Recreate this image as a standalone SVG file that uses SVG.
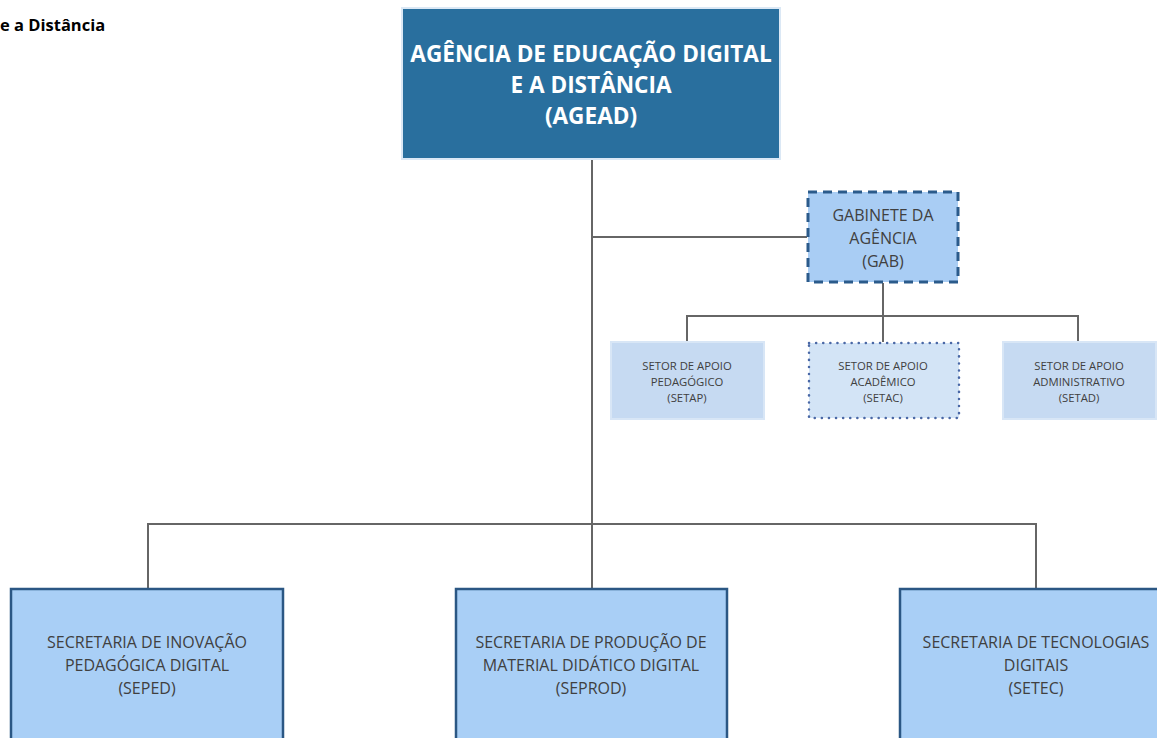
<svg xmlns="http://www.w3.org/2000/svg" width="1157" height="738" viewBox="0 0 1157 738">
<style>
text{font-family:"Open Sans","Noto Sans","Liberation Sans",sans-serif;text-anchor:middle}
.top{fill:#ffffff;font-weight:bold;font-size:22.6px}
.mid{fill:#404040;font-size:16px}
.sm{fill:#404040;font-size:11.3px}
.big{fill:#404040;font-size:16px}
.conn{stroke:#666666;stroke-width:2;fill:none}
</style>
<rect width="1157" height="738" fill="#ffffff"/>
<text x="0" y="31" style="text-anchor:start;font-weight:bold;font-size:16.5px;fill:#000000">e a Distância</text>
<g id="connectors">
<path class="conn" d="M592 159V588"/>
<path class="conn" d="M592 237H807"/>
<path class="conn" d="M883 283V342M687 342V316H1078V342"/>
<path class="conn" d="M148 588V524H1036V588"/>
</g>
<g id="agead">
<rect x="402" y="8" width="378" height="151" fill="#296f9e" stroke="#dbe8f5" stroke-width="2"/>
<text class="top" x="591" y="62">AGÊNCIA DE EDUCAÇÃO DIGITAL</text>
<text class="top" x="591" y="93">E A DISTÂNCIA</text>
<text class="top" x="591" y="124">(AGEAD)</text>
</g>
<g id="gab">
<rect x="808" y="192" width="150" height="90" fill="#a9cdf4" stroke="#2b5b8b" stroke-width="3" stroke-dasharray="9,6"/>
<text class="mid" x="883" y="221">GABINETE DA</text>
<text class="mid" x="883" y="244">AGÊNCIA</text>
<text class="mid" x="883" y="267">(GAB)</text>
</g>
<g id="setap">
<rect x="611" y="342" width="153" height="77" fill="#c6daf2" stroke="#d8e6f6" stroke-width="2"/>
<text class="sm" x="687" y="370">SETOR DE APOIO</text>
<text class="sm" x="687" y="386">PEDAGÓGICO</text>
<text class="sm" x="687" y="402">(SETAP)</text>
</g>
<g id="setac">
<rect x="809" y="343" width="150" height="75" fill="#d3e4f6" stroke="#4a68a6" stroke-width="2.5" stroke-dasharray="0.1,7" stroke-linecap="round"/>
<text class="sm" x="883" y="370">SETOR DE APOIO</text>
<text class="sm" x="883" y="386">ACADÊMICO</text>
<text class="sm" x="883" y="402">(SETAC)</text>
</g>
<g id="setad">
<rect x="1003" y="342" width="153" height="77" fill="#c6daf2" stroke="#d8e6f6" stroke-width="2"/>
<text class="sm" x="1079" y="370">SETOR DE APOIO</text>
<text class="sm" x="1079" y="386">ADMINISTRATIVO</text>
<text class="sm" x="1079" y="402">(SETAD)</text>
</g>
<g id="seped">
<rect x="11" y="589" width="272" height="160" fill="#a9cff6" stroke="#2b5784" stroke-width="2.5"/>
<text class="big" x="147" y="648">SECRETARIA DE INOVAÇÃO</text>
<text class="big" x="147" y="671">PEDAGÓGICA DIGITAL</text>
<text class="big" x="147" y="694">(SEPED)</text>
</g>
<g id="seprod">
<rect x="456" y="589" width="271" height="160" fill="#a9cff6" stroke="#2b5784" stroke-width="2.5"/>
<text class="big" x="591" y="648">SECRETARIA DE PRODUÇÃO DE</text>
<text class="big" x="591" y="671">MATERIAL DIDÁTICO DIGITAL</text>
<text class="big" x="591" y="694">(SEPROD)</text>
</g>
<g id="setec">
<rect x="900" y="589" width="272" height="160" fill="#a9cff6" stroke="#2b5784" stroke-width="2.5"/>
<text class="big" x="1036" y="648">SECRETARIA DE TECNOLOGIAS</text>
<text class="big" x="1036" y="671">DIGITAIS</text>
<text class="big" x="1036" y="694">(SETEC)</text>
</g>
</svg>
